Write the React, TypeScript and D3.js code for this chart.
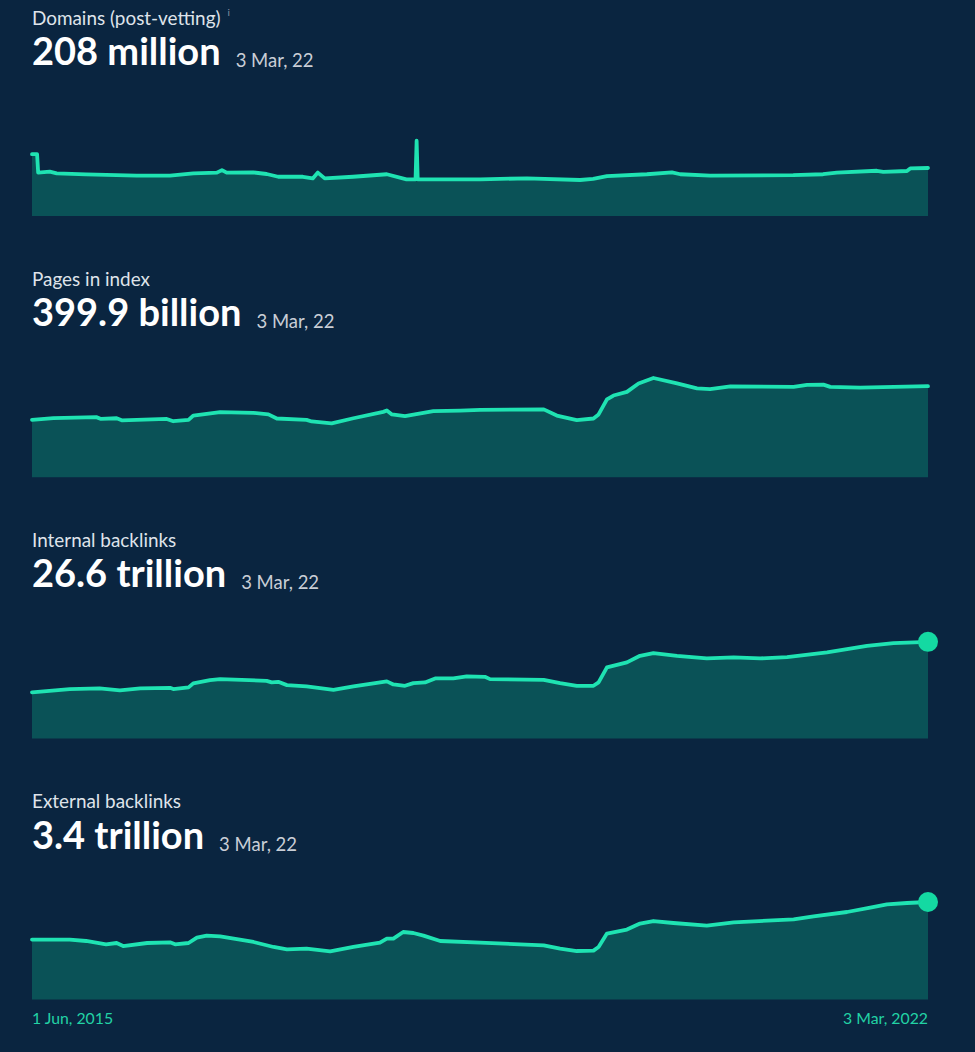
import React, { useEffect } from 'react';
import * as d3 from 'd3';

const startLabel = '1 Jun, 2015';
const endLabel = '3 Mar, 2022';
const startDate = '2015-06-01';
const endDate = '2022-03-03';

const titles = ['Domains (post-vetting)', 'Pages in index', 'Internal backlinks', 'External backlinks'];
const headlines = ['208 million', '399.9 billion', '26.6 trillion', '3.4 trillion'];
const asOf = ['3 Mar, 22', '3 Mar, 22', '3 Mar, 22', '3 Mar, 22'];
const showEndDot = [false, false, true, true];
const yMaxes = [520, 527.4, 33.05, 4.181];

// Domains (millions)
const domainsDates = ['2015-06-01','2015-06-15','2015-06-18','2015-07-20','2015-08-08','2015-10-28','2016-03-15','2016-06-15','2016-08-18','2016-10-22','2016-11-05','2016-11-18','2017-01-30','2017-03-08','2017-04-09','2017-06-16','2017-07-13','2017-07-27','2017-08-15','2017-11-01','2018-02-02','2018-03-28','2018-04-22','2018-04-25','2018-04-28','2018-10-17','2019-02-23','2019-07-19','2019-08-24','2019-10-01','2020-01-19','2020-03-28','2020-04-20','2020-07-11','2021-02-25','2021-05-18','2021-06-25','2021-10-13','2021-10-31','2022-01-04','2022-01-13','2022-03-03'];
const domainsValues = [268,268,188,192,185,180,175,175,185,188,199,188,189,182,170,170,163,188,163,170,181,159,159,326,159,159,163,156,161,173,181,189,181,175,177,181,188,196,191,195,206,208];

// Pages in index (billions)
const pagesDates = ['2015-06-01','2015-07-30','2015-11-25','2015-12-08','2016-01-20','2016-02-03','2016-06-06','2016-06-24','2016-08-05','2016-08-18','2016-10-31','2017-01-31','2017-03-13','2017-04-05','2017-06-26','2017-07-10','2017-09-03','2017-11-02','2018-01-23','2018-02-02','2018-02-16','2018-03-24','2018-06-10','2018-08-23','2018-10-17','2019-04-10','2019-05-16','2019-07-10','2019-08-25','2019-09-08','2019-10-01','2019-10-19','2019-11-25','2019-12-27','2020-02-06','2020-04-11','2020-06-05','2020-07-11','2020-09-05','2021-02-26','2021-04-04','2021-05-19','2021-06-07','2021-08-28','2022-03-03'];
const pagesValues = [252,260,264,256,259,250,256,246,252,271,286,283,276,258,252,245,237,259,287,293,276,268,290,293,296,298,271,251,258,276,342,359,375,412,436,412,390,387,399,397,406,407,397,394,399.9];

// Internal backlinks (trillions)
const internalDates = ['2015-06-01','2015-09-13','2015-12-04','2016-01-29','2016-03-25','2016-06-15','2016-06-24','2016-08-05','2016-08-18','2016-10-03','2016-10-31','2017-03-08','2017-03-22','2017-04-09','2017-05-03','2017-06-26','2017-09-08','2017-11-02','2018-02-02','2018-02-20','2018-03-24','2018-04-16','2018-05-18','2018-06-15','2018-08-04','2018-09-10','2018-10-30','2018-11-13','2019-04-10','2019-05-25','2019-07-10','2019-08-25','2019-09-08','2019-10-01','2019-11-25','2019-12-31','2020-02-06','2020-04-11','2020-07-02','2020-09-14','2020-11-26','2021-02-08','2021-05-29','2021-09-16','2021-11-28','2022-03-03'];
const internalValues = [12.67,13.58,13.77,13.22,13.77,13.94,13.58,14.05,15.15,16.06,16.33,15.86,15.42,15.59,14.68,14.32,13.38,14.32,15.7,14.87,14.49,15.23,15.42,16.52,16.52,17.07,16.96,16.33,16.14,15.23,14.49,14.49,15.42,19.55,20.93,22.75,23.49,22.75,22.03,22.31,22.03,22.39,23.68,25.5,26.25,26.6];

// External backlinks (trillions)
const externalDates = ['2015-06-01','2015-09-13','2015-10-28','2015-12-22','2016-01-20','2016-02-07','2016-04-13','2016-06-15','2016-06-29','2016-08-05','2016-08-28','2016-09-24','2016-10-31','2017-01-31','2017-03-27','2017-05-03','2017-06-26','2017-08-30','2017-11-02','2018-01-14','2018-02-02','2018-02-20','2018-03-19','2018-04-16','2018-05-14','2018-06-29','2018-10-17','2019-04-10','2019-05-25','2019-07-10','2019-08-25','2019-09-08','2019-10-01','2019-11-25','2019-12-31','2020-02-06','2020-04-01','2020-07-02','2020-09-14','2021-02-26','2021-04-22','2021-07-23','2021-09-25','2021-11-10','2022-01-04','2022-03-03'];
const externalValues = [2.09,2.09,2.042,1.927,1.972,1.867,1.972,1.996,1.927,1.972,2.16,2.23,2.205,2.007,1.833,1.752,1.777,1.683,1.833,1.986,2.125,2.125,2.355,2.32,2.23,2.042,1.986,1.892,1.777,1.693,1.707,1.833,2.299,2.439,2.648,2.738,2.669,2.578,2.693,2.798,2.902,3.052,3.205,3.32,3.366,3.4];

const seriesDates = [domainsDates, pagesDates, internalDates, externalDates];
const seriesValues = [domainsValues, pagesValues, internalValues, externalValues];

const BG = '#0a2540';
const AREA = '#0a5257';
const LINE = '#1fe3b2';
const DOT = '#14d9a2';
const FONT = 'Lato, "Noto Sans", sans-serif';

const W = 975;
const H = 1052;
const LEFT = 32;
const RIGHT = 928;
const PANEL_STEP = 261.2;
const FIRST_BOTTOM = 216;
const PLOT_H = 120;

const parse = d3.timeParse('%Y-%m-%d');

export default function App() {
  useEffect(() => {
    document.body.style.margin = '0';
    document.body.style.background = BG;
  }, []);

  const x = d3.scaleTime().domain([parse(startDate)!, parse(endDate)!]).range([LEFT, RIGHT]);

  return (
    <svg width={W} height={H} style={{ display: 'block', background: BG }} fontFamily={FONT}>
      <rect x={0} y={0} width={W} height={H} fill={BG} />
      {titles.map((title, i) => {
        const top = i * PANEL_STEP;
        const bottom = FIRST_BOTTOM + i * PANEL_STEP;
        const y = d3.scaleLinear().domain([0, yMaxes[i]]).range([bottom, bottom - PLOT_H]);
        const pts = seriesDates[i].map((d, k) => ({ d: parse(d)!, v: seriesValues[i][k] }));
        const area = d3.area<{ d: Date; v: number }>().x((p) => x(p.d)).y0(bottom).y1((p) => y(p.v));
        const line = d3.line<{ d: Date; v: number }>().x((p) => x(p.d)).y((p) => y(p.v));
        const last = pts[pts.length - 1];
        return (
          <g key={i}>
            <text x={LEFT} y={top + 24.5} fill="#dfe3ea" fontSize={18.9}>
              {title}
              {i === 0 && (
                <tspan dx={7} dy={-9} fontSize={10} fill="#8593a6">i</tspan>
              )}
            </text>
            <text x={LEFT} y={top + 65} fill="#ffffff" fontSize={38} fontWeight={700}>
              {headlines[i]}
              <tspan dx={15} dy={2} fontSize={18.5} fontWeight={400} fill="#c9ced6">{asOf[i]}</tspan>
            </text>
            <path d={area(pts)!} fill={AREA} />
            <path d={line(pts)!} fill="none" stroke={LINE} strokeWidth={3.8} strokeLinejoin="round" strokeLinecap="round" />
            {showEndDot[i] && <circle cx={x(last.d)} cy={y(last.v)} r={10} fill={DOT} />}
          </g>
        );
      })}
      <text x={LEFT} y={1024} fill="#22d3a5" fontSize={15.8}>{startLabel}</text>
      <text x={RIGHT} y={1024} fill="#22d3a5" fontSize={15.8} textAnchor="end">{endLabel}</text>
    </svg>
  );
}
